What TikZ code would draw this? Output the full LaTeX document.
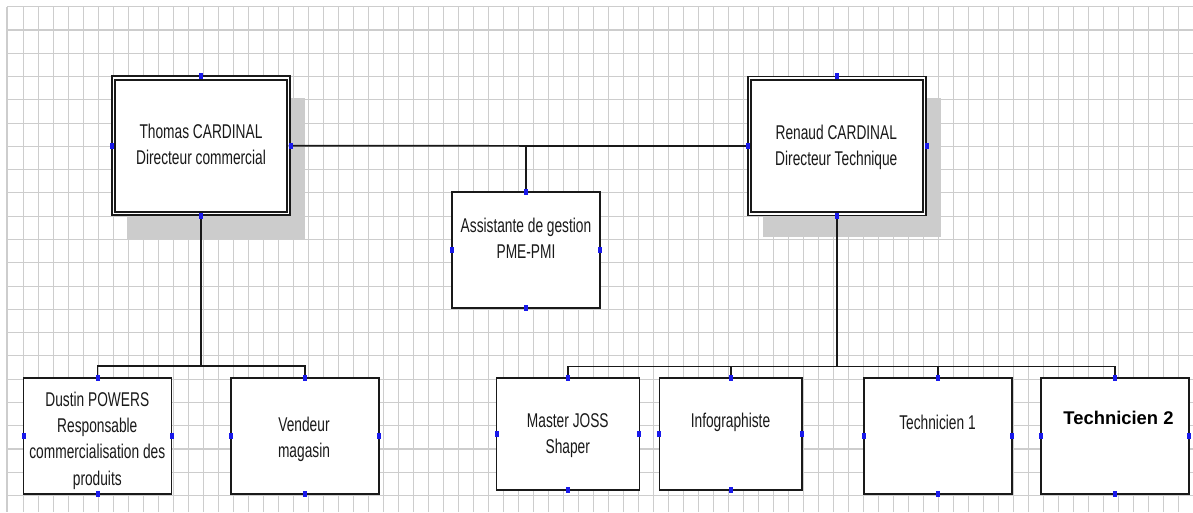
\documentclass[tikz,border=0pt]{standalone}
\usepackage{fontspec}
\setmainfont{Liberation Sans}
\usepackage{graphicx}
\pgfdeclarelayer{gridl}
\pgfdeclarelayer{shadowl}
\pgfsetlayers{gridl,shadowl,main}
\definecolor{gridc}{RGB}{205,205,205}
\definecolor{shadc}{RGB}{204,204,204}
\definecolor{linec}{RGB}{25,25,25}
\definecolor{mkc}{RGB}{25,25,235}
\newcommand{\ysc}[1]{\scalebox{1}[1.45]{#1}}
\begin{document}
\begin{tikzpicture}[x=0.75pt,y=-0.75pt,
  box/.style={draw=linec, line width=1.3pt, fill=white, rectangle, inner sep=0pt, outer sep=0pt,
    minimum width=148*0.75pt, minimum height=116*0.75pt},
  smallbox/.style={box, minimum width=142.8*0.75pt, minimum height=111.7*0.75pt},
  dbox/.style={box, line width=1.35pt, double=white, double distance=1.4pt,
    minimum width=175*0.75pt, minimum height=135.5*0.75pt},
  conn/.style={draw=linec, line width=1.3pt},
  lbl/.style={anchor=north, align=center, inner sep=0pt, text=black!90,
    font=\fontsize{10.3}{19.7}\selectfont},
  boldlbl/.style={anchor=north, align=center, inner sep=0pt, text=black,
    font=\fontsize{13.8}{16}\selectfont\bfseries},
  mk/.style={fill=mkc, inner sep=0pt, outer sep=0pt, minimum width=3pt, minimum height=4.5pt}
]
\useasboundingbox (0,0) rectangle (1193,512);
% grid
\begin{pgfonlayer}{gridl}
  \fill[white] (0,0) rectangle (1193,512);
  \draw[gridc, line width=0.8pt] (7,6.7) -- (7,512);
  \foreach \k in {1,...,79} \draw[gridc, line width=0.8pt] ({8.3+15*\k},6.7) -- ({8.3+15*\k},512);
  \foreach \k in {0,...,21} \draw[gridc, line width=0.8pt] (7,{6.7+23.28*\k}) -- (1193,{6.7+23.28*\k});
\end{pgfonlayer}
% boxes
\node[dbox] (thomas) at (201,145.75) {};
\node[dbox] (renaud) at (837,146) {};
\node[box] (asst) at (526.3,250.3) {};
\node[box] (dustin) at (97.5,436.3) {};
\node[box] (vendeur) at (304.7,436.3) {};
\node[smallbox] (master) at (568,434.2) {};
\node[smallbox] (info) at (730.8,434.2) {};
\node[box] (tech1) at (937.8,436.2) {};
\node[box] (tech2) at (1115.2,436.2) {};
% shadows
\begin{pgfonlayer}{shadowl}
  \fill[shadc] ([shift={(13,20)}]thomas.north west) rectangle ([shift={(16.5,25)}]thomas.south east);
  \fill[shadc] ([shift={(13,20)}]renaud.north west) rectangle ([shift={(16.5,23.5)}]renaud.south east);
\end{pgfonlayer}
% bus coordinates
\coordinate (busL) at (0,366);
\coordinate (busR) at (0,366.5);
% connectors
\draw[conn] (thomas.east) -- (renaud.west);
\draw[conn] (asst.north) -- (asst.north |- thomas.east);
\draw[conn] (thomas.south) -- (thomas.south |- busL);
\draw[conn] (dustin.north) -- (dustin.north |- busL) -- (vendeur.north |- busL) -- (vendeur.north);
\draw[conn] (renaud.south) -- (renaud.south |- busR);
\draw[conn] (master.north) -- (master.north |- busR) -- (tech2.north |- busR) -- (tech2.north);
\draw[conn] (info.north) -- (info.north |- busR);
\draw[conn] (tech1.north) -- (tech1.north |- busR);
% markers
\foreach \n in {asst,dustin,vendeur,master,info,tech1,tech2}
  \foreach \a in {north,south,east,west}
    \node[mk] (\n-\a-mk) at (\n.\a) {};
\foreach \n in {thomas,renaud} {
  \node[mk] (\n-north-mk) at ([yshift=1.5pt]\n.north) {};
  \node[mk] (\n-south-mk) at ([yshift=-1.5pt]\n.south) {};
  \node[mk] (\n-east-mk) at ([xshift=1.5pt]\n.east) {};
  \node[mk] (\n-west-mk) at ([xshift=-1.5pt]\n.west) {};
}
% texts
\node[lbl] (thomas-t) at (201,123.7) {\ysc{Thomas CARDINAL}\\\ysc{Directeur commercial}};
\node[lbl] (renaud-t) at (836.3,124.7) {\ysc{Renaud CARDINAL}\\\ysc{Directeur Technique}};
\node[lbl] (asst-t) at (526,217.3) {\ysc{Assistante de gestion}\\\ysc{PME-PMI}};
\node[lbl] (dustin-t) at (97.3,391.7) {\ysc{Dustin POWERS}\\\ysc{Responsable}\\\ysc{commercialisation des}\\\ysc{produits}};
\node[lbl] (vendeur-t) at (304,416.7) {\ysc{Vendeur}\\\ysc{magasin}};
\node[lbl] (master-t) at (567.8,413.3) {\ysc{Master JOSS}\\\ysc{Shaper}};
\node[lbl] (info-t) at (730.5,412.7) {\ysc{Infographiste}};
\node[lbl] (tech1-t) at (937.5,414.3) {\ysc{Technicien 1}};
\node[boldlbl] (tech2-t) at (1118.5,411) {Technicien 2};
\end{tikzpicture}
\end{document}
